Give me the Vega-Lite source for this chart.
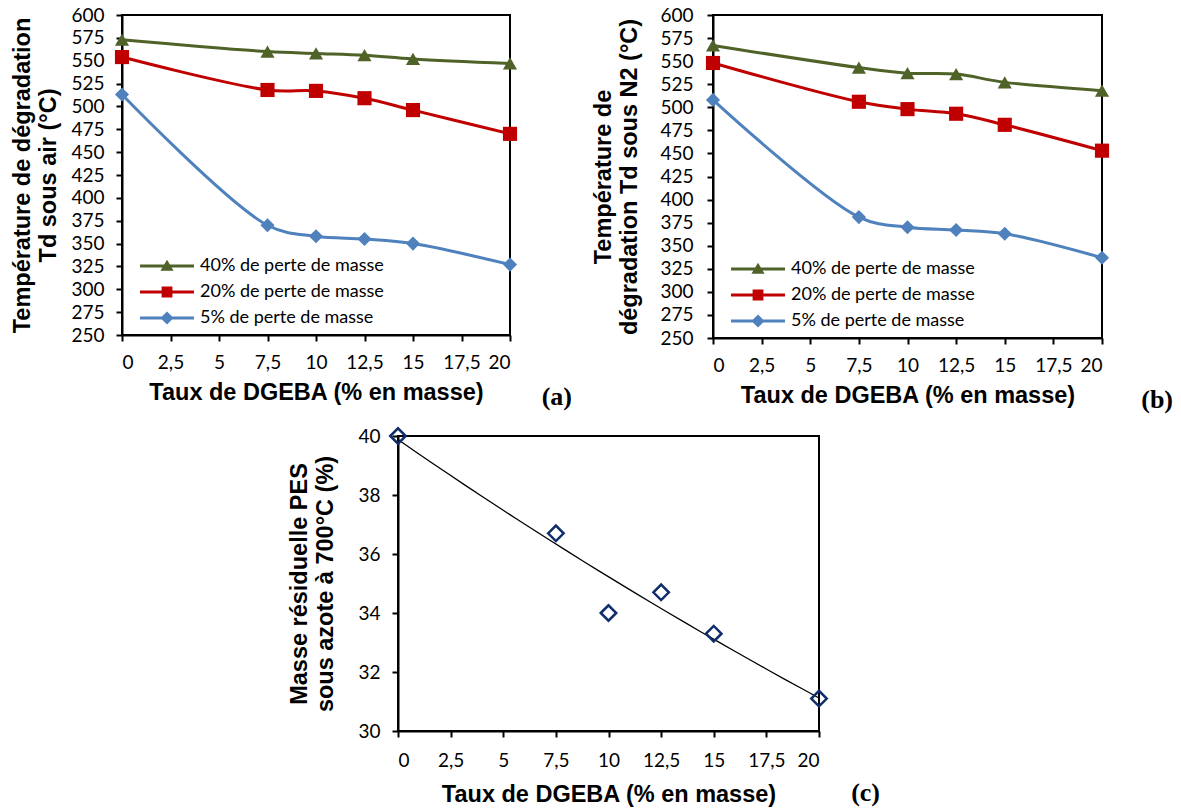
{
  "$schema": "https://vega.github.io/schema/vega-lite/v6.json",
  "padding": {"top": 5, "left": 9, "right": 5, "bottom": 0},
  "background": "white",
  "config": {
    "view": {"stroke": "black", "strokeWidth": 2},
    "axis": {"domainColor": "black", "domainWidth": 2, "tickColor": "black", "tickWidth": 2, "tickSize": 6, "labelFont": "Lato", "labelFontSize": 19, "labelColor": "black", "titleFont": "Liberation Sans", "titleFontSize": 23.5, "titleFontWeight": "bold", "titleColor": "black", "grid": false, "titleLineHeight": 26},
    "legend": {"labelFont": "Lato", "labelFontSize": 18, "labelColor": "black", "labelLimit": 400, "orient": "bottom-left", "offset": 8, "padding": 0, "rowPadding": 8, "labelOffset": 52, "symbolSize": 144, "symbolStrokeWidth": 0, "symbolOpacity": 1, "title": null}
  },
  "datasets": {
    "air": [
      {"taux": 0, "T": 573, "serie": "40% de perte de masse"},
      {"taux": 7.5, "T": 560, "serie": "40% de perte de masse"},
      {"taux": 10, "T": 558, "serie": "40% de perte de masse"},
      {"taux": 12.5, "T": 556, "serie": "40% de perte de masse"},
      {"taux": 15, "T": 552, "serie": "40% de perte de masse"},
      {"taux": 20, "T": 547, "serie": "40% de perte de masse"},
      {"taux": 0, "T": 554, "serie": "20% de perte de masse"},
      {"taux": 7.5, "T": 518, "serie": "20% de perte de masse"},
      {"taux": 10, "T": 517, "serie": "20% de perte de masse"},
      {"taux": 12.5, "T": 509, "serie": "20% de perte de masse"},
      {"taux": 15, "T": 496, "serie": "20% de perte de masse"},
      {"taux": 20, "T": 470, "serie": "20% de perte de masse"},
      {"taux": 0, "T": 513, "serie": "5% de perte de masse"},
      {"taux": 7.5, "T": 370, "serie": "5% de perte de masse"},
      {"taux": 10, "T": 358, "serie": "5% de perte de masse"},
      {"taux": 12.5, "T": 355, "serie": "5% de perte de masse"},
      {"taux": 15, "T": 350, "serie": "5% de perte de masse"},
      {"taux": 20, "T": 327, "serie": "5% de perte de masse"}
    ],
    "azote": [
      {"taux": 0, "T": 567, "serie": "40% de perte de masse"},
      {"taux": 7.5, "T": 543, "serie": "40% de perte de masse"},
      {"taux": 10, "T": 537, "serie": "40% de perte de masse"},
      {"taux": 12.5, "T": 536, "serie": "40% de perte de masse"},
      {"taux": 15, "T": 527, "serie": "40% de perte de masse"},
      {"taux": 20, "T": 518, "serie": "40% de perte de masse"},
      {"taux": 0, "T": 548, "serie": "20% de perte de masse"},
      {"taux": 7.5, "T": 506, "serie": "20% de perte de masse"},
      {"taux": 10, "T": 498, "serie": "20% de perte de masse"},
      {"taux": 12.5, "T": 493, "serie": "20% de perte de masse"},
      {"taux": 15, "T": 481, "serie": "20% de perte de masse"},
      {"taux": 20, "T": 453, "serie": "20% de perte de masse"},
      {"taux": 0, "T": 508, "serie": "5% de perte de masse"},
      {"taux": 7.5, "T": 381, "serie": "5% de perte de masse"},
      {"taux": 10, "T": 370, "serie": "5% de perte de masse"},
      {"taux": 12.5, "T": 367, "serie": "5% de perte de masse"},
      {"taux": 15, "T": 363, "serie": "5% de perte de masse"},
      {"taux": 20, "T": 337, "serie": "5% de perte de masse"}
    ],
    "residu": [
      {"taux": 0, "masse": 40.0},
      {"taux": 7.5, "masse": 36.7},
      {"taux": 10, "masse": 34.0},
      {"taux": 12.5, "masse": 34.7},
      {"taux": 15, "masse": 33.3},
      {"taux": 20, "masse": 31.1}
    ]
  },
  "vconcat": [
    {
      "hconcat": [
        {
          "width": 388, "height": 320,
          "data": {"name": "air"},
          "title": {"text": "(a)", "orient": "bottom", "anchor": "end", "frame": "group", "font": "Liberation Serif", "fontSize": 26, "fontWeight": "bold", "color": "black", "offset": -20, "dx": 62},
          "encoding": {
            "x": {"field": "taux", "type": "quantitative", "scale": {"domain": [0, 20]}, "axis": {"title": "Taux de DGEBA (% en masse)", "values": [0, 2.5, 5, 7.5, 10, 12.5, 15, 17.5, 20], "format": ".1~f", "labelExpr": "replace(datum.label, '.', ',')", "labelPadding": 12, "titlePadding": 8}},
            "y": {"field": "T", "type": "quantitative", "scale": {"domain": [250, 600]}, "axis": {"title": ["Température de dégradation", "Td sous air (°C)"], "values": [250, 275, 300, 325, 350, 375, 400, 425, 450, 475, 500, 525, 550, 575, 600], "labelPadding": 12, "titlePadding": 10}}
          },
          "layer": [
            {"mark": {"type": "line", "strokeWidth": 3, "interpolate": "catmull-rom"},
             "encoding": {"color": {"field": "serie", "type": "nominal", "scale": {"domain": ["40% de perte de masse", "20% de perte de masse", "5% de perte de masse"], "range": ["#4F6228", "#C00000", "#4F81BD"]}, "legend": null}}},
            {"mark": {"type": "point", "filled": true, "opacity": 1, "size": 200},
             "encoding": {
               "color": {"field": "serie", "type": "nominal", "scale": {"domain": ["40% de perte de masse", "20% de perte de masse", "5% de perte de masse"], "range": ["#4F6228", "#C00000", "#4F81BD"]}, "legend": null},
               "shape": {"field": "serie", "type": "nominal", "scale": {"domain": ["40% de perte de masse", "20% de perte de masse", "5% de perte de masse"], "range": ["triangle-up", "square", "diamond"]}, "legend": null}
             }},
            {"transform": [{"filter": "false"}],
             "mark": {"type": "point", "filled": true, "opacity": 1},
             "encoding": {
               "color": {"field": "serie", "type": "nominal", "scale": {"domain": ["40% de perte de masse", "20% de perte de masse", "5% de perte de masse"], "range": ["#4F6228", "#C00000", "#4F81BD"]}, "legend": {}},
               "shape": {"field": "serie", "type": "nominal", "scale": {"domain": ["40% de perte de masse", "20% de perte de masse", "5% de perte de masse"], "range": ["M0.17,-0.25H9.17V0.25H0.17Z M4.67,-1.05L5.77,0.8L3.57,0.8Z", "M0.17,-0.25H9.17V0.25H0.17Z M3.77,-0.9H5.57V0.9H3.77Z", "M0.17,-0.25H9.17V0.25H0.17Z M4.67,-1.1L5.77,0L4.67,1.1L3.57,0Z"]}, "legend": {}}
             }}
          ],
          "resolve": {"scale": {"color": "independent", "shape": "independent"}, "legend": {"color": "independent", "shape": "independent"}}
        },
        {
          "width": 389, "height": 323,
          "data": {"name": "azote"},
          "title": {"text": "(b)", "orient": "bottom", "anchor": "end", "frame": "group", "font": "Liberation Serif", "fontSize": 26, "fontWeight": "bold", "color": "black", "offset": -20, "dx": 71},
          "encoding": {
            "x": {"field": "taux", "type": "quantitative", "scale": {"domain": [0, 20]}, "axis": {"title": "Taux de DGEBA (% en masse)", "values": [0, 2.5, 5, 7.5, 10, 12.5, 15, 17.5, 20], "format": ".1~f", "labelExpr": "replace(datum.label, '.', ',')", "labelPadding": 12, "titlePadding": 8}},
            "y": {"field": "T", "type": "quantitative", "scale": {"domain": [250, 600]}, "axis": {"title": ["Température de", "dégradation Td sous N2 (°C)"], "values": [250, 275, 300, 325, 350, 375, 400, 425, 450, 475, 500, 525, 550, 575, 600], "labelPadding": 14, "titlePadding": 18}}
          },
          "layer": [
            {"mark": {"type": "line", "strokeWidth": 3, "interpolate": "catmull-rom"},
             "encoding": {"color": {"field": "serie", "type": "nominal", "scale": {"domain": ["40% de perte de masse", "20% de perte de masse", "5% de perte de masse"], "range": ["#4F6228", "#C00000", "#4F81BD"]}, "legend": null}}},
            {"mark": {"type": "point", "filled": true, "opacity": 1, "size": 200},
             "encoding": {
               "color": {"field": "serie", "type": "nominal", "scale": {"domain": ["40% de perte de masse", "20% de perte de masse", "5% de perte de masse"], "range": ["#4F6228", "#C00000", "#4F81BD"]}, "legend": null},
               "shape": {"field": "serie", "type": "nominal", "scale": {"domain": ["40% de perte de masse", "20% de perte de masse", "5% de perte de masse"], "range": ["triangle-up", "square", "diamond"]}, "legend": null}
             }},
            {"transform": [{"filter": "false"}],
             "mark": {"type": "point", "filled": true, "opacity": 1},
             "encoding": {
               "color": {"field": "serie", "type": "nominal", "scale": {"domain": ["40% de perte de masse", "20% de perte de masse", "5% de perte de masse"], "range": ["#4F6228", "#C00000", "#4F81BD"]}, "legend": {}},
               "shape": {"field": "serie", "type": "nominal", "scale": {"domain": ["40% de perte de masse", "20% de perte de masse", "5% de perte de masse"], "range": ["M0.17,-0.25H9.17V0.25H0.17Z M4.67,-1.05L5.77,0.8L3.57,0.8Z", "M0.17,-0.25H9.17V0.25H0.17Z M3.77,-0.9H5.57V0.9H3.77Z", "M0.17,-0.25H9.17V0.25H0.17Z M4.67,-1.1L5.77,0L4.67,1.1L3.57,0Z"]}, "legend": {}}
             }}
          ],
          "resolve": {"scale": {"color": "independent", "shape": "independent"}, "legend": {"color": "independent", "shape": "independent"}}
        }
      ],
      "spacing": 17,
      "resolve": {"scale": {"color": "independent", "shape": "independent"}, "legend": {"color": "independent", "shape": "independent"}}
    },
    {
      "hconcat": [
        {"width": 164, "height": 10, "data": {"values": []}, "mark": {"type": "point"}, "view": {"stroke": null}},
        {
          "width": 421, "height": 295,
          "data": {"name": "residu"},
          "title": {"text": "(c)", "orient": "bottom", "anchor": "end", "frame": "group", "font": "Liberation Serif", "fontSize": 26, "fontWeight": "bold", "color": "black", "offset": -26, "dx": 61},
          "encoding": {
            "x": {"field": "taux", "type": "quantitative", "scale": {"domain": [0, 20]}, "axis": {"title": "Taux de DGEBA (% en masse)", "values": [0, 2.5, 5, 7.5, 10, 12.5, 15, 17.5, 20], "format": ".1~f", "labelExpr": "replace(datum.label, '.', ',')", "labelPadding": 14, "titlePadding": 12}},
            "y": {"field": "masse", "type": "quantitative", "scale": {"domain": [30, 40]}, "axis": {"title": ["Masse résiduelle PES", "sous azote à 700°C (%)"], "values": [30, 32, 34, 36, 38, 40], "labelPadding": 12, "titlePadding": 20}}
          },
          "layer": [
            {"transform": [{"regression": "masse", "on": "taux", "method": "exp", "extent": [0, 20]}],
             "mark": {"type": "line", "color": "black", "strokeWidth": 1.3}},
            {"mark": {"type": "point", "shape": "diamond", "filled": false, "color": "#0F2D6B", "strokeWidth": 2.5, "size": 240, "opacity": 1}}
          ]
        }
      ],
      "spacing": 0
    }
  ],
  "spacing": 8
}
